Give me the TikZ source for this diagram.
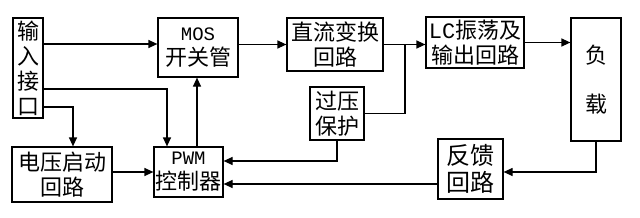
\documentclass[tikz,border=0pt]{standalone}
\usepackage{fontspec}
\newfontfamily\cjk{Noto Sans CJK SC}
\newfontfamily\mono{Liberation Mono}
\usetikzlibrary{positioning, arrows.meta}

\begin{document}
\begin{tikzpicture}[x=1pt, y=-1pt,
        every node/.style={inner sep=0pt, align=center},
        blk/.style={draw, line width=1.2pt, font=\cjk\fontsize{22}{25}\selectfont},
        wire/.style={line width=1.2pt},
        arr/.style={wire, -{Triangle[length=9pt, width=8pt]}}]
      \useasboundingbox (0,0) rectangle (640,217);
      \node[blk, minimum width=30pt, minimum height=100pt] (in)   at (28,68)      {输\\入\\接\\口};
      \node[blk, minimum width=80pt, minimum height=59pt]  (mos)  at (198,47.5)   {{\mono\fontsize{19}{22}\selectfont MOS}\\开关管};
      \node[blk, minimum width=96pt, minimum height=53pt]  (dc)   at (335,44.5)   {直流变换\\回路};
      \node[blk, minimum width=98pt, minimum height=51pt]  (lc)   at (475,42.5)   {{\mono LC}振荡及\\输出回路};
      \node[blk, minimum width=50pt, minimum height=123pt] (load) at (596,79.5)   {负\\[24pt]载};
      \node[blk, minimum width=100pt, minimum height=55pt] (vs)   at (62,174.5)   {电压启动\\回路};
      \node[blk, minimum width=69pt, minimum height=50pt]  (pwm)  at (188.5,172)  {{\mono\fontsize{19}{22}\selectfont PWM}\\控制器};
      \node[blk, minimum width=54pt, minimum height=53pt]  (ovp)  at (337,113.5)  {过压\\保护};
      \node[blk, minimum width=65pt, minimum height=60pt,
            font=\cjk\fontsize{24}{27}\selectfont]         (fb)   at (470.5,169)  {反馈\\回路};
      \coordinate (j) at (405,44.5);
      \coordinate (mosin) at ([yshift=3.5]mos.west);
      \draw[arr] (in.east |- mosin) -- (mosin);
      \draw[arr] ([yshift=-21]in.center -| in.east) -| ([xshift=-21.5]pwm.north);
      \draw[arr] ([yshift=-39]in.center -| in.east) -| ([xshift=11]vs.north);
      \draw[arr] ([xshift=8.5]pwm.north) -- ([xshift=8.5]pwm.north |- mos.south);
      \draw[arr] (vs.east |- pwm.west) -- (pwm.west);
      \draw[arr] (mos.east |- dc.west) -- (dc.west);
      \draw[arr] (dc.east) -- (lc.west |- dc.east);
      \draw[wire] (ovp.east) -| (j);
      \draw[arr] (ovp.south) |- ([yshift=11]pwm.east);
      \draw[arr] (load.south) |- ([yshift=-3]fb.east);
      \draw[arr] (lc.east) -- (load.west |- lc.east);
      \draw[arr] ([yshift=-15]fb.west) -- ([yshift=-12]pwm.east);
    \end{tikzpicture}
\end{document}
